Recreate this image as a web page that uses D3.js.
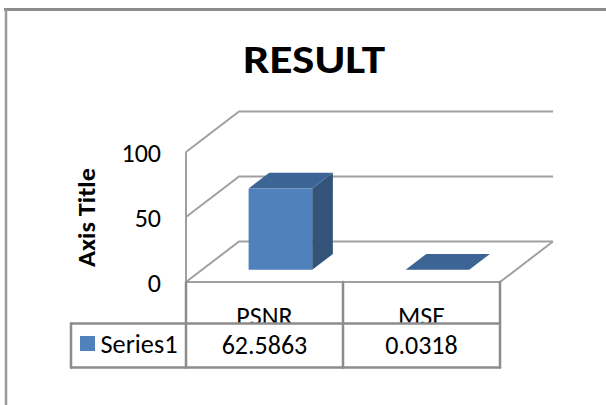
<!DOCTYPE html>
<html>
<head>
<meta charset="utf-8">
<script src="https://cdnjs.cloudflare.com/ajax/libs/d3/7.8.5/d3.min.js"></script>
<style>
  html, body { margin: 0; padding: 0; background: #fff; }
  text { font-family: Carlito, Calibri, Lato, sans-serif; fill: #000; }
</style>
</head>
<body>
<script>
// width and height
var w = 606;
var h = 405;

var categories = ["PSNR", "MSE"];
var values = [62.5863, 0.0318];
var seriesName = "Series1";
var valueLabels = ["62.5863", "0.0318"];
var yTicks = [0, 50, 100];

var colors = {
  front: "#4f81bd",
  top: "#3c6494",
  side: "#345378",
  grid: "#a0a0a0",
  table: "#8c8c8c"
};

// depth of the floor, as screen offset
var depthX = 53;
var depthY = -40.5;

var x = d3.scaleBand().domain(categories).range([186, 500]);
var y = d3.scaleLinear().domain([0, 100]).range([282, 152]);

// 3d point: a = position along x, v = value, d = depth 0..1
function pt(a, v, d) {
  return [a + depthX * d, y(v) + depthY * d];
}
function poly(points) {
  return points.map(function(p) { return p.join(","); }).join(" ");
}

var svg = d3.select("body").append("svg")
  .attr("width", w)
  .attr("height", h)
  .style("display", "block");

// outer frame: only the top and left edges fall inside the picture
svg.append("line")
  .attr("x1", 4)
  .attr("x2", w)
  .attr("y1", 9.5)
  .attr("y2", 9.5)
  .attr("stroke", "#8c8c8c")
  .attr("stroke-width", 3);
svg.append("line")
  .attr("x1", 6)
  .attr("x2", 6)
  .attr("y1", 9)
  .attr("y2", h)
  .attr("stroke", "#999")
  .attr("stroke-width", 2.5);

svg.append("text")
  .attr("x", 314)
  .attr("y", 73)
  .attr("text-anchor", "middle")
  .attr("font-size", 41)
  .attr("font-weight", "bold")
  .attr("textLength", 142)
  .attr("lengthAdjust", "spacingAndGlyphs")
  .text("RESULT");

// back wall gridlines + side wall lines
yTicks.forEach(function(t) {
  svg.append("polyline")
    .attr("points", poly([pt(186, t, 0), pt(186, t, 1), pt(500, t, 1)]))
    .attr("fill", "none")
    .attr("stroke", colors.grid)
    .attr("stroke-width", 2);
});

// floor front and right edge, left wall edge
svg.append("polyline")
  .attr("points", poly([pt(500, 0, 1), pt(500, 0, 0), pt(186, 0, 0), pt(186, 100, 0)]))
  .attr("fill", "none")
  .attr("stroke", colors.grid)
  .attr("stroke-width", 2);

// bars
var barW = x.bandwidth() * 0.405;
var d0 = 0.3, d1 = 0.69;

var bars = svg.selectAll("g.bar")
  .data(categories)
  .enter()
  .append("g")
  .attr("class", "bar");

bars.each(function(c, i) {
  var g = d3.select(this);
  var v = values[i];
  var l = x(c) + (x.bandwidth() - barW) / 2;
  var r = l + barW;
  g.append("polygon")
    .attr("points", poly([pt(r, 0, d0), pt(r, 0, d1), pt(r, v, d1), pt(r, v, d0)]))
    .attr("fill", colors.side);
  g.append("polygon")
    .attr("points", poly([pt(l, v, d0), pt(r, v, d0), pt(r, v, d1), pt(l, v, d1)]))
    .attr("fill", colors.top);
  g.append("polygon")
    .attr("points", poly([pt(l, 0, d0), pt(r, 0, d0), pt(r, v, d0), pt(l, v, d0)]))
    .attr("fill", colors.front);
});

// y axis labels
svg.selectAll("text.ytick")
  .data(yTicks)
  .enter()
  .append("text")
  .attr("class", "ytick")
  .attr("x", 161)
  .attr("y", function(d) { return y(d) + 10; })
  .attr("text-anchor", "end")
  .attr("font-size", 26)
  .text(function(d) { return d; });

svg.append("text")
  .attr("transform", "translate(95,217.5) rotate(-90)")
  .attr("text-anchor", "middle")
  .attr("font-size", 25)
  .attr("font-weight", "bold")
  .attr("textLength", 99)
  .attr("lengthAdjust", "spacingAndGlyphs")
  .text("Axis Title");

// data table
var rowTop = 282, rowMid = 323.5, rowBottom = 367.5, tableLeft = 71;

// category labels are cut off by the table row
svg.append("clipPath")
  .attr("id", "catClip")
  .append("rect")
  .attr("x", 186)
  .attr("y", rowTop)
  .attr("width", 314)
  .attr("height", rowMid - rowTop);

svg.selectAll("text.cat")
  .data(categories)
  .enter()
  .append("text")
  .attr("class", "cat")
  .attr("clip-path", "url(#catClip)")
  .attr("x", function(d) { return x(d) + x.bandwidth() / 2; })
  .attr("y", 325)
  .attr("text-anchor", "middle")
  .attr("font-size", 26)
  .text(function(d) { return d; });

svg.selectAll("text.val")
  .data(valueLabels)
  .enter()
  .append("text")
  .attr("class", "val")
  .attr("x", function(d, i) { return x(categories[i]) + x.bandwidth() / 2; })
  .attr("y", 354)
  .attr("text-anchor", "middle")
  .attr("font-size", 26)
  .text(function(d) { return d; });

var tableLines = [
  [tableLeft, rowMid, 500, rowMid],
  [tableLeft, rowBottom, 500, rowBottom],
  [tableLeft, rowMid, tableLeft, rowBottom],
  [186, rowTop, 186, rowBottom],
  [343, rowTop, 343, rowBottom],
  [500, rowTop, 500, rowBottom]
];
svg.selectAll("line.table")
  .data(tableLines)
  .enter()
  .append("line")
  .attr("class", "table")
  .attr("x1", function(d) { return d[0]; })
  .attr("y1", function(d) { return d[1]; })
  .attr("x2", function(d) { return d[2]; })
  .attr("y2", function(d) { return d[3]; })
  .attr("stroke", colors.table)
  .attr("stroke-width", 2.5)
  .attr("stroke-linecap", "round");

// legend key
svg.append("rect")
  .attr("x", 80)
  .attr("y", 336)
  .attr("width", 15)
  .attr("height", 15)
  .attr("fill", colors.front);

svg.append("text")
  .attr("x", 100.5)
  .attr("y", 353)
  .attr("font-size", 26)
  .attr("textLength", 77)
  .attr("lengthAdjust", "spacingAndGlyphs")
  .text(seriesName);
</script>
</body>
</html>
